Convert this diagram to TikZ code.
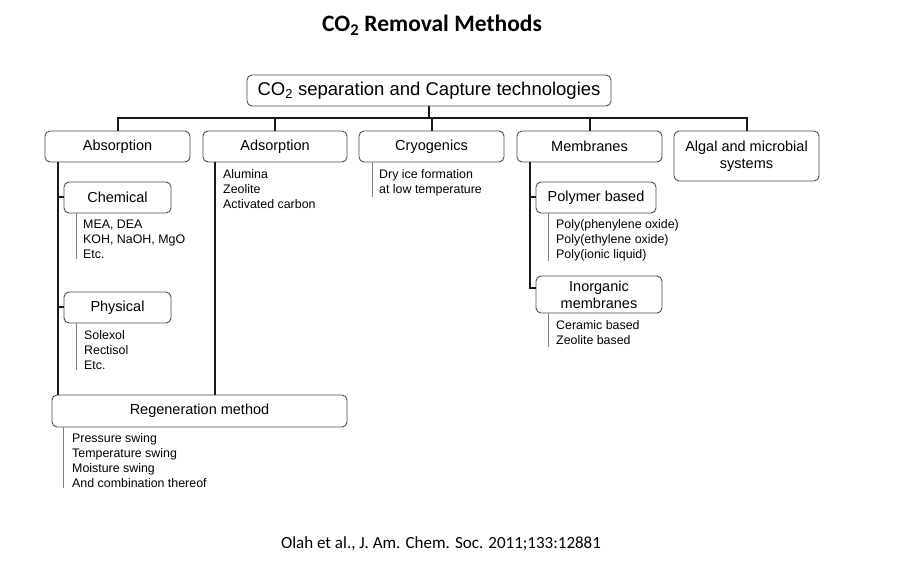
\documentclass[tikz,border=0pt]{standalone}
\usepackage{fontspec}
\setmainfont{Liberation Sans}
\newfontfamily\calib{Carlito}
\begin{document}
\begin{tikzpicture}[x=1pt,y=-1pt,
  box/.style={draw=black!70, line width=0.9pt, rounded corners=5pt, fill=white, inner sep=0pt, align=center, font=\fontsize{14.5}{17}\selectfont},
  conn/.style={draw=black!90, line width=2pt},
  itemline/.style={draw=black!50, line width=1pt},
  items/.style={anchor=north west, inner sep=0pt, align=left, font=\fontsize{12.4}{15}\selectfont}]
\useasboundingbox (0,0) rectangle (916,569);
% title
\node[font=\calib\bfseries\fontsize{23.5}{27}\selectfont] (title) at (432,25) {CO\textsubscript{2} Removal Methods};
% top box
\node[box, font=\fontsize{18.5}{22}\selectfont, minimum width=364pt, minimum height=31pt] (top) at (429,90.5) {CO\textsubscript{2} separation and Capture technologies};
% second level
\node[box, minimum width=145pt, minimum height=31pt] (abs) at (117.5,146.5) {Absorption};
\node[box, minimum width=144pt, minimum height=31pt] (ads) at (275,146.5) {Adsorption};
\node[box, minimum width=145pt, minimum height=31pt] (cryo) at (431.5,146.5) {Cryogenics};
\node[box, minimum width=145pt, minimum height=31pt] (mem) at (589.5,146.5) {Membranes};
\node[box, minimum width=145pt, minimum height=50pt] (alg) at (746.5,156) {Algal and microbial\\systems};
% third level
\node[box, minimum width=107pt, minimum height=31pt] (chem) at (117.5,197.5) {Chemical};
\node[box, minimum width=107pt, minimum height=31pt] (phys) at (117.5,307.5) {Physical};
\node[box, minimum width=120pt, minimum height=31pt] (poly) at (596,197.5) {Polymer based};
\node[box, minimum width=126pt, minimum height=37pt] (inorg) at (599,294.5) {Inorganic\\membranes};
\node[box, minimum width=295pt, minimum height=32pt] (regen) at (199.5,411) {Regeneration method};
\coordinate (inorgW) at ([yshift=6pt]inorg.west);
% item lists
\node[items] (chemI) at (83,219.5) {MEA, DEA\\KOH, NaOH, MgO\\Etc.};
\node[items] (adsI) at (223,169.5) {Alumina\\Zeolite\\Activated carbon};
\node[items] (cryoI) at (379,169.5) {Dry ice formation\\at low temperature};
\node[items] (physI) at (84,330.5) {Solexol\\Rectisol\\Etc.};
\node[items] (polyI) at (556,219.5) {Poly(phenylene oxide)\\Poly(ethylene oxide)\\Poly(ionic liquid)};
\node[items] (inorgI) at (556,320.5) {Ceramic based\\Zeolite based};
\node[items] (regenI) at (72,433.5) {Pressure swing\\Temperature swing\\Moisture swing\\And combination thereof};
% bus
\coordinate (bus) at (0,118);
\draw[conn] (top.south) -- (top.south |- bus);
\draw[conn] (abs.north) -- (abs.north |- bus) -- (alg.north |- bus) -- (alg.north);
\draw[conn] (ads.north) -- (ads.north |- bus);
\draw[conn] (cryo.north) -- (cryo.north |- bus);
\draw[conn] (mem.north) -- (mem.north |- bus);
% absorption branch
\draw[conn] ([xshift=13pt]abs.south west) coordinate (a1) -- (a1 |- regen.north);
\draw[conn] (chem.west) -- (chem.west -| a1);
\draw[conn] (phys.west) -- (phys.west -| a1);
% adsorption branch
\draw[conn] ([xshift=12pt]ads.south west) coordinate (d1) -- (d1 |- regen.north);
% membranes branch
\draw[conn] ([xshift=13pt]mem.south west) coordinate (m1) -- (m1 |- inorgW) -- (inorgW);
\draw[conn] (poly.west) -- (poly.west -| m1);
% item lines
\draw[itemline] ([xshift=13pt]chem.south west) coordinate (c1) -- (c1 |- chemI.south);
\draw[itemline] ([xshift=14pt]cryo.south west) coordinate (k1) -- ([yshift=-1pt]k1 |- cryoI.south);
\draw[itemline] ([xshift=13pt]phys.south west) coordinate (p1) -- (p1 |- physI.south);
\draw[itemline] ([xshift=13pt]poly.south west) coordinate (q1) -- (q1 |- polyI.south);
\draw[itemline] ([xshift=13pt]inorg.south west) coordinate (i1) -- ([yshift=-2pt]i1 |- inorgI.south);
\draw[itemline] ([xshift=12pt]regen.south west) coordinate (r1) -- (r1 |- regenI.south);
% citation
\node[font=\calib\fontsize{17}{20}\selectfont] (cite) at (441,544) {Olah et al., J. Am. Chem. Soc. 2011;133:12881};
\end{tikzpicture}
\end{document}
